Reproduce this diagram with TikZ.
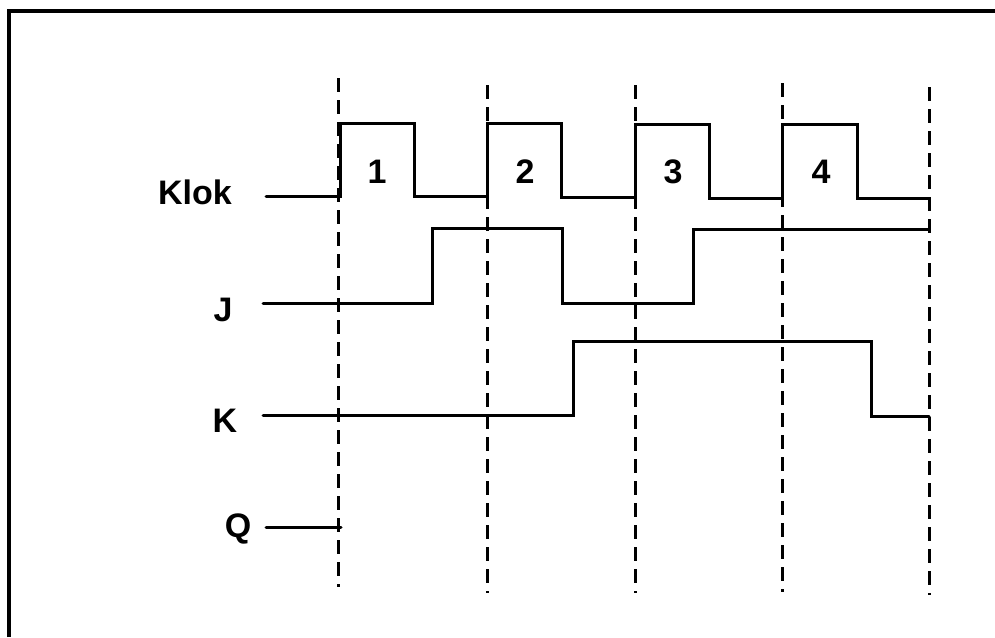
\documentclass[tikz,border=0pt]{standalone}
\usepackage{fontspec}
\setmainfont{Liberation Sans}
\begin{document}
\begin{tikzpicture}[x=1pt,y=-1pt,
  signal/.style={line width=3pt,line join=miter,line cap=round},
  grid/.style={line width=2.5pt,dash pattern=on 14pt off 8pt},
  lbl/.style={font=\fontsize{34}{40}\selectfont\bfseries,inner sep=0pt,anchor=base},
  frame/.style={line width=4pt}]
\useasboundingbox (0,0) rectangle (995,637);
% frame (only top and left visible)
\draw[frame] (9,637) -- (9,11) -- (995,11);
% dashed time markers
\coordinate (t1a) at (338.5,78);  \coordinate (t1b) at (338.5,587);
\coordinate (t2a) at (487.5,85);  \coordinate (t2b) at (487.5,593);
\coordinate (t3a) at (635.5,85);  \coordinate (t3b) at (635.5,593);
\coordinate (t4a) at (782.5,83);  \coordinate (t4b) at (782.5,592);
\coordinate (t5a) at (929.5,87);  \coordinate (t5b) at (929.5,595);
\foreach \i in {1,...,5} \draw[grid] (t\i a) -- (t\i b);
% labels
\node[lbl] (klok) at (195,204) {Klok};
\node[lbl] (j) at (223,321) {J};
\node[lbl] (k) at (225,432) {K};
\node[lbl] (q) at (238,537) {Q};
\node[lbl] (n1) at (377,183) {1};
\node[lbl] (n2) at (525,183) {2};
\node[lbl] (n3) at (673,183) {3};
\node[lbl] (n4) at (821,183) {4};
% Klok
\draw[signal] (266,196) -- (340,196) -- (340,123) -- (414,123) -- (414,196) -- (487,196)
  -- (487,123) -- (561,123) -- (561,197) -- (635,197) -- (635,124) -- (709,124)
  -- (709,198) -- (782,198) -- (782,124) -- (857,124) -- (857,198) -- (929,198);
% J
\draw[signal] (263,303) -- (432,303) -- (432,228) -- (562,228) -- (562,303) -- (693,303)
  -- (693,229) -- (929,229);
% K
\draw[signal] (263,415) -- (573,415) -- (573,341) -- (871,341) -- (871,416) -- (929,416);
% Q
\draw[signal] (266,527) -- (341,527);
\end{tikzpicture}
\end{document}
